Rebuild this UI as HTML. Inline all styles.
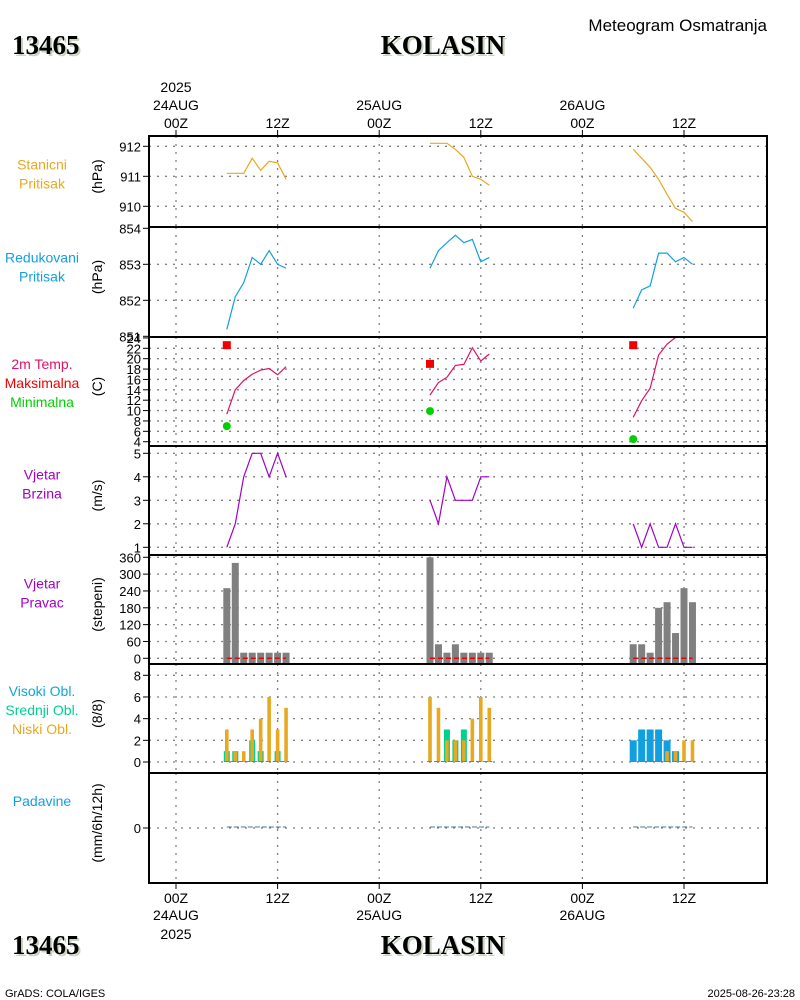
<!DOCTYPE html>
<html><head><meta charset="utf-8"><style>
html,body{margin:0;padding:0;background:#fff;}
svg{display:block;font-family:"Liberation Sans",sans-serif;}
</style></head><body>
<svg id="chart" width="800" height="1000" viewBox="0 0 800 1000" xmlns="http://www.w3.org/2000/svg">
<g font-family="Liberation Serif,serif" font-weight="bold">
<text x="14" y="56" font-size="27" fill="#c8d4c0">13465</text>
<text x="12" y="54" font-size="27" fill="#000">13465</text>
<text x="445" y="56" font-size="27" fill="#c8d4c0" text-anchor="middle">KOLASIN</text>
<text x="443" y="54" font-size="27" fill="#000" text-anchor="middle">KOLASIN</text>
</g>
<text x="767" y="31" font-size="17" text-anchor="end">Meteogram Osmatranja</text>
<g font-family="Liberation Serif,serif" font-weight="bold">
<text x="14" y="956" font-size="27" fill="#c8d4c0">13465</text>
<text x="12" y="954" font-size="27" fill="#000">13465</text>
<text x="445" y="956" font-size="27" fill="#c8d4c0" text-anchor="middle">KOLASIN</text>
<text x="443" y="954" font-size="27" fill="#000" text-anchor="middle">KOLASIN</text>
</g>
<text x="5" y="997" font-size="11">GrADS: COLA/IGES</text>
<text x="795" y="997" font-size="11" text-anchor="end">2025-08-26-23:28</text>
<g id="plot"></g>
</svg>
<script>
// ---- data (hours since 24AUG 00Z) ----
const hours = [6,7,8,9,10,11,12,13, 30,31,32,33,34,35,36,37, 54,55,56,57,58,59,60,61];
const stationPressure = [911.1,911.1,911.1,911.6,911.2,911.5,911.45,910.9, 912.1,912.1,912.1,911.9,911.63,911.0,910.9,910.7, 911.9,911.6,911.3,910.9,910.4,909.93,909.8,909.49];
const reducedPressure = [851.19,852.1,852.49,853.19,853.0,853.38,853.0,852.89, 852.89,853.38,853.6,853.81,853.6,853.69,853.07,853.19, 851.78,852.29,852.4,853.31,853.31,853.07,853.19,853.0];
const temperature = [9.3,14.0,15.8,17.0,17.8,18.1,16.9,18.45, 13.0,15.4,16.4,18.7,18.9,22.1,19.55,20.9, 8.7,11.9,14.3,20.7,22.8,24.1,25,25];
const maxHours = [6,30,54];
const maxTemp = [22.6,19.0,22.6];
const minTemp = [7.0,9.9,4.5];
const windSpeed = [1,2,4,5,5,4,5,4, 3,2,4,3,3,3,4,4, 2,1,2,1,1,2,1,1];
const windDir = [250,340,20,20,20,20,20,20, 360,50,20,50,20,20,20,20, 50,50,20,180,200,90,250,200];
const lowCloud = [3,1,1,3,4,6,3,5, 6,5,2,2,2,4,6,5, 0,0,0,0,1,1,2,2];
const midCloud = [1,1,0,2,1,0,1,0, 0,0,3,2,3,0,0,0, 0,0,0,0,0,0,0,0];
const highCloud = [0,0,0,0,0,0,0,0, 0,0,0,0,0,0,0,0, 2,3,3,3,2,1,0,0];
const precip = [0,0,0,0,0,0,0,0, 0,0,0,0,0,0,0,0, 0,0,0,0,0,0,0,0];
const pressTicks = [912,911,910];
const redTicks = [854,853,852,851];
const tempTicks = [24,22,20,18,16,14,12,10,8,6,4];
const speedTicks = [5,4,3,2,1];
const dirTicks = [360,300,240,180,120,60,0];
const cloudTicks = [8,6,4,2,0];
const precipTicks = [0];
const timeTicks = [0,12,24,36,48,60];
const timeLabels = ["00Z","12Z","00Z","12Z","00Z","12Z"];
const dayLabels = ["24AUG","","25AUG","","26AUG",""];

const NS="http://www.w3.org/2000/svg";
const plot=document.getElementById('plot');
const X0=149,X1=767;
const xs=h=>176+h*(508/60);
function el(tag,attrs,parent){const e=document.createElementNS(NS,tag);for(const k in attrs)e.setAttribute(k,attrs[k]);(parent||plot).appendChild(e);return e;}
function lin(v0,y0,v1,y1){return v=>y0+(v-v0)*(y1-y0)/(v1-v0);}

const panels=[
 {name:'station-pressure',top:136,bot:227,y:lin(912,146.3,911,176.3),ticks:pressTicks,labels:[['Stanicni','#e8a820'],['Pritisak','#e8a820']],unit:'(hPa)',lc:174},
 {name:'reduced-pressure',top:227,bot:337,y:lin(853,264.3,852,300.3),ticks:redTicks,labels:[['Redukovani','#10a0e0'],['Pritisak','#10a0e0']],unit:'(hPa)',lc:267},
 {name:'temperature',top:337,bot:446,y:lin(22,348.3,4,441.7),ticks:tempTicks,labels:[['2m Temp.','#e0106a'],['Maksimalna','#f00000'],['Minimalna','#00d000']],unit:'(C)',lc:383},
 {name:'wind-speed',top:446,bot:555,y:lin(5,453.3,1,547.3),ticks:speedTicks,labels:[['Vjetar','#a000c8'],['Brzina','#a000c8']],unit:'(m/s)',lc:484},
 {name:'wind-direction',top:555,bot:664,y:lin(0,658.3,360,557.3),ticks:dirTicks,labels:[['Vjetar','#a000c8'],['Pravac','#a000c8']],unit:'(stepeni)',lc:593},
 {name:'cloud-cover',top:664,bot:773,y:lin(0,762,8,675.3),ticks:cloudTicks,labels:[['Visoki Obl.','#10a8d8'],['Srednji Obl.','#00d090'],['Niski Obl.','#e8a820']],unit:'(8/8)',lc:710},
 {name:'precipitation',top:773,bot:883,y:lin(0,828,1,800),ticks:precipTicks,labels:[['Padavine','#10a0e0']],unit:'(mm/6h/12h)',lc:801}
];

panels.forEach((p,pi)=>{
 const g=el('g',{});
 
 
 const cid='clip'+pi;
 const cp=el('clipPath',{id:cid},g);el('rect',{x:X0,y:p.top,width:X1-X0,height:p.bot-p.top},cp);
 timeTicks.forEach(t=>{const l=el('line',{x1:xs(t),x2:xs(t),y1:p.top,y2:p.bot,stroke:'#808080','stroke-width':1.3,'stroke-dasharray':'2,6'},g);
  });
 p.ticks.forEach(v=>{const y=p.y(v);if(y<p.top-1||y>p.bot+1)return;
  if(y>p.top+2&&y<p.bot-2){const l=el('line',{x1:X0,x2:X1,y1:y,y2:y,stroke:'#808080','stroke-width':1.3,'stroke-dasharray':'2,6'},g);
   }
  el('line',{x1:143,x2:X0,y1:y,y2:y,stroke:'#000','stroke-width':1},g);
  const tx=el('text',{x:141,y:y+5,'font-size':13,'text-anchor':'end'},g);tx.textContent=v;
  
 });
 const n=p.labels.length,mid=p.lc;
 p.labels.forEach((lb,i)=>{const t=el('text',{x:42,y:mid-(n-1)*9.5+i*19+5,'font-size':14,'text-anchor':'middle',fill:lb[1]},g);t.textContent=lb[0];
  });
 const u=el('text',{x:0,y:0,'font-size':14,'text-anchor':'middle',transform:`translate(102,${(p.top+p.bot)/2-5}) rotate(-90)`},g);u.textContent=p.unit;
 
 p.g=el('g',{'clip-path':`url(#${cid})`},g);
});

function series(p,vals,color,name){
 for(let d=0;d<3;d++){let pts=[];for(let i=d*8;i<d*8+8;i++)pts.push(xs(hours[i])+','+p.y(vals[i]));
  const pl=el('polyline',{points:pts.join(' '),fill:'none',stroke:color,'stroke-width':1.2},p.g);
  }
}
series(panels[0],stationPressure,'#e8a820','station-pressure-line');
series(panels[1],reducedPressure,'#10a0e0','reduced-pressure-line');
series(panels[2],temperature,'#e0106a','temperature-line');
series(panels[3],windSpeed,'#a000c8','wind-speed-line');
maxHours.forEach((h,i)=>{
 const r=el('rect',{x:xs(h)-4,y:panels[2].y(maxTemp[i])-4,width:8,height:8,fill:'#f00000'},panels[2].g);
 
 const c=el('circle',{cx:xs(h),cy:panels[2].y(minTemp[i]),r:4,fill:'#00d000'},panels[2].g);
 
});
const pd=panels[4];
hours.forEach((h,i)=>{const y=pd.y(windDir[i]);
 const r=el('rect',{x:xs(h)-3.5,y:y,width:7,height:pd.bot-y,fill:'#808080'},pd.g);
 });
for(let d=0;d<3;d++){const l=el('line',{x1:xs(hours[d*8]),x2:xs(hours[d*8+7]),y1:pd.y(0),y2:pd.y(0),stroke:'#f00000','stroke-width':1.5,'stroke-dasharray':'5,3'},pd.g);
 }
const pc=panels[5];
hours.forEach((h,i)=>{const x=xs(h);const y0=pc.y(0);
 if(highCloud[i]>0){const r=el('rect',{x:x-3.5,y:pc.y(highCloud[i]),width:7,height:y0-pc.y(highCloud[i]),fill:'#10a0e0'},pc.g);
  }
 if(midCloud[i]>0){const r=el('rect',{x:x-3,y:pc.y(midCloud[i]),width:6,height:y0-pc.y(midCloud[i]),fill:'#00d090'},pc.g);
  }
 if(lowCloud[i]>0){const r=el('rect',{x:x-1.8,y:pc.y(lowCloud[i]),width:3.6,height:y0-pc.y(lowCloud[i]),fill:'#e8a820'},pc.g);
  }
});
for(let d=0;d<3;d++){const l=el('line',{x1:xs(hours[d*8])-3,x2:xs(hours[d*8+7])+3,y1:pc.y(0)-0.5,y2:pc.y(0)-0.5,stroke:'#10a0e0','stroke-width':1,'stroke-dasharray':'5,2'},pc.g);
 }
const pp=panels[6];
for(let d=0;d<3;d++){let pts=[];for(let i=d*8;i<d*8+8;i++)pts.push(xs(hours[i])+','+(pp.y(precip[i])-1));
 const pl=el('polyline',{points:pts.join(' '),fill:'none',stroke:'#4a7890','stroke-width':1,'stroke-dasharray':'5,2'},pp.g);
 }
panels.forEach(p=>{const r=el('rect',{x:X0,y:p.top,width:X1-X0,height:p.bot-p.top,fill:'none',stroke:'#000','stroke-width':2});
 });
timeTicks.forEach((t,i)=>{const x=xs(t);
 el('line',{x1:x,x2:x,y1:130,y2:136,stroke:'#000'});
 el('line',{x1:x,x2:x,y1:883,y2:889,stroke:'#000'});
 const a=el('text',{x:x,y:128,'font-size':14,'text-anchor':'middle'});a.textContent=timeLabels[i];
 
 const b=el('text',{x:x,y:903,'font-size':14,'text-anchor':'middle'});b.textContent=timeLabels[i];
 
 if(dayLabels[i]){const c=el('text',{x:x,y:110,'font-size':14,'text-anchor':'middle'});c.textContent=dayLabels[i];
  
  const e=el('text',{x:x,y:920,'font-size':14,'text-anchor':'middle'});e.textContent=dayLabels[i];
  }
});
const y1=el('text',{x:xs(0),y:92,'font-size':14,'text-anchor':'middle'});y1.textContent='2025';

const y2=el('text',{x:xs(0),y:939,'font-size':14,'text-anchor':'middle'});y2.textContent='2025';

</script>
</body></html>
